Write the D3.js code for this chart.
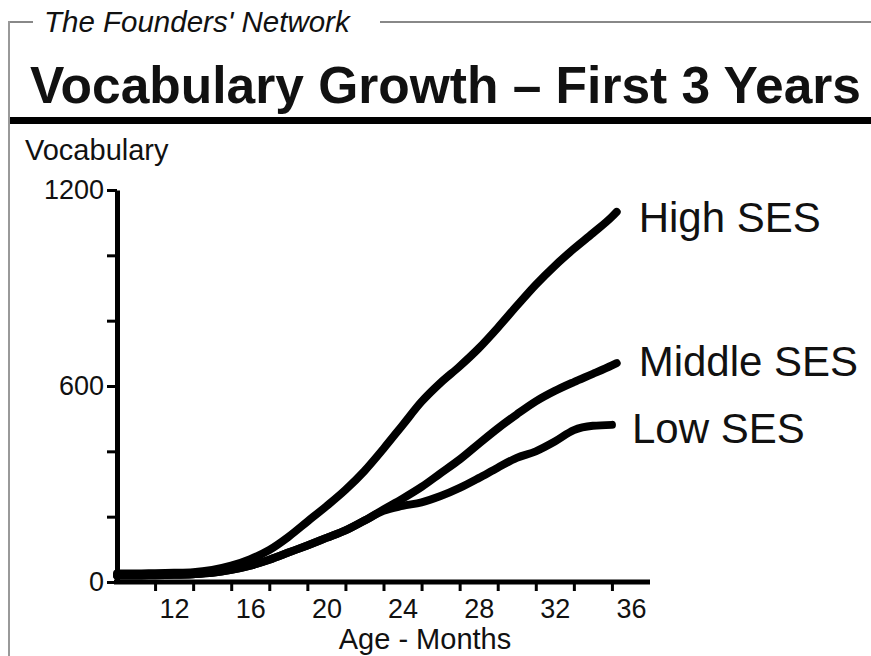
<!DOCTYPE html>
<html>
<head>
<meta charset="utf-8">
<script src="https://cdn.jsdelivr.net/npm/d3@7"></script>
<style>
  html, body { margin: 0; padding: 0; background: #fff; }
  svg { display: block; }
  text { font-family: "Liberation Sans", Arial, Helvetica, sans-serif; fill: #111; }
</style>
</head>
<body>
<svg id="chart" width="871" height="656"></svg>
<script>
// ---- data ----
const sourceLabel = "The Founders' Network";
const chartTitle = "Vocabulary Growth – First 3 Years";
const yAxisTitle = "Vocabulary";
const xAxisTitle = "Age - Months";

const seriesNames = ["High SES", "Middle SES", "Low SES"];

const highMonths  = [9, 10, 11, 12, 13, 14, 15, 16, 17, 18, 19, 20, 21, 22, 23, 24, 25, 26, 27, 28, 29, 30, 31, 32, 33, 34, 35, 35.25];
const highValues  = [26, 26, 27, 28, 30, 37, 50, 70, 98, 138, 185, 232, 282, 340, 408, 480, 552, 610, 660, 715, 778, 845, 910, 968, 1020, 1068, 1118, 1133];

const middleMonths = [9, 10, 11, 12, 13, 14, 15, 16, 17, 18, 19, 20, 21, 22, 23, 24, 25, 26, 27, 28, 29, 30, 31, 32, 33, 34, 35, 35.25];
const middleValues = [20, 20, 21, 22, 24, 28, 37, 50, 68, 90, 112, 135, 158, 188, 222, 255, 291, 333, 375, 423, 470, 513, 553, 585, 612, 637, 663, 670];

const lowMonths  = [9, 10, 11, 12, 13, 14, 15, 16, 17, 18, 19, 20, 21, 22, 23, 24, 25, 26, 27, 28, 29, 30, 31, 32, 33, 34, 35];
const lowValues  = [20, 20, 21, 22, 24, 28, 37, 50, 68, 90, 112, 135, 158, 188, 218, 233, 244, 263, 288, 318, 350, 380, 400, 430, 465, 478, 481];

const xTickMonths  = [11, 13, 15, 17, 19, 21, 23, 25, 27, 29, 31, 33, 35];
const xLabelMonths = [12, 16, 20, 24, 28, 32, 36];
const yTickValues  = [0, 200, 400, 600, 800, 1000, 1200];
const yLabelValues = [0, 600, 1200];

// ---- drawing ----
const svg = d3.select("#chart");

const x = d3.scaleLinear().domain([9, 37]).range([117, 650]);
const y = d3.scaleLinear().domain([0, 1200]).range([582, 190]);

// header frame
svg.append("line").attr("x1", 9).attr("x2", 33).attr("y1", 22).attr("y2", 22)
  .attr("stroke", "#888").attr("stroke-width", 2);
svg.append("line").attr("x1", 380).attr("x2", 871).attr("y1", 22).attr("y2", 22)
  .attr("stroke", "#888").attr("stroke-width", 2);
svg.append("line").attr("x1", 9).attr("x2", 9).attr("y1", 21).attr("y2", 656)
  .attr("stroke", "#999").attr("stroke-width", 2);

svg.append("text").attr("x", 44).attr("y", 32)
  .attr("font-size", 29.5).attr("font-style", "italic")
  .text(sourceLabel);

svg.append("text").attr("x", 30).attr("y", 103)
  .attr("font-size", 51.5).attr("font-weight", "bold")
  .text(chartTitle);

svg.append("line").attr("x1", 10).attr("x2", 871).attr("y1", 120.5).attr("y2", 120.5)
  .attr("stroke", "#000").attr("stroke-width", 7);

// axis titles
svg.append("text").attr("x", 25).attr("y", 160)
  .attr("font-size", 29).text(yAxisTitle);
svg.append("text").attr("x", 425).attr("y", 649)
  .attr("font-size", 29).attr("text-anchor", "middle").text(xAxisTitle);

// y axis
const yAxis = svg.append("g").attr("transform", `translate(${x(9)},0)`)
  .call(d3.axisLeft(y).tickValues(yTickValues).tickSize(10).tickSizeOuter(0).tickPadding(3)
    .tickFormat(d => yLabelValues.includes(d) ? d : ""));
yAxis.select(".domain").attr("stroke", "#000").attr("stroke-width", 5);
yAxis.selectAll(".tick line").attr("stroke", "#000").attr("stroke-width", 3);
yAxis.selectAll(".tick text").attr("font-size", 27).attr("fill", "#111")
  .attr("font-family", "Liberation Sans, Arial, sans-serif");

// x axis (ticks)
const xAxis = svg.append("g").attr("transform", `translate(0,${y(0)})`)
  .call(d3.axisBottom(x).tickValues(xTickMonths).tickSize(9).tickSizeOuter(0).tickFormat(""));
xAxis.select(".domain").attr("stroke", "#000").attr("stroke-width", 5)
  .attr("d", `M${x(9) - 3},0H${x(37)}`);
xAxis.selectAll(".tick line").attr("stroke", "#000").attr("stroke-width", 3);

// x axis (labels)
const xLab = svg.append("g").attr("transform", `translate(0,${y(0)})`)
  .call(d3.axisBottom(x).tickValues(xLabelMonths).tickSize(0).tickPadding(17));
xLab.select(".domain").remove();
xLab.selectAll(".tick text").attr("font-size", 27).attr("fill", "#111")
  .attr("font-family", "Liberation Sans, Arial, sans-serif");

// lines
const series = [
  { name: seriesNames[0], months: highMonths, values: highValues, dx: 22, dy: 20 },
  { name: seriesNames[1], months: middleMonths, values: middleValues, dx: 22, dy: 13 },
  { name: seriesNames[2], months: lowMonths, values: lowValues, dx: 20, dy: 18 }
];

const line = d3.line()
  .x(d => x(d[0]))
  .y(d => y(d[1]))
  .curve(d3.curveMonotoneX);

series.forEach(s => {
  const pts = s.months.map((m, i) => [m, s.values[i]]);
  svg.append("path")
    .attr("d", line(pts))
    .attr("fill", "none")
    .attr("stroke", "#000")
    .attr("stroke-width", 8)
    .attr("stroke-linecap", "round")
    .attr("stroke-linejoin", "round");
  const last = pts[pts.length - 1];
  svg.append("text")
    .attr("x", x(last[0]) + s.dx)
    .attr("y", y(last[1]) + s.dy)
    .attr("font-size", 42)
    .text(s.name);
});
</script>
</body>
</html>
